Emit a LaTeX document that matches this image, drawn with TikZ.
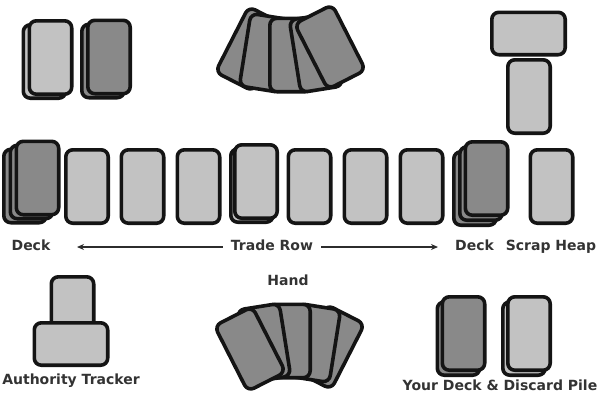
\documentclass[tikz,border=0pt]{standalone}
\usepackage{fontspec}
\setmainfont{DejaVu Sans}
\usetikzlibrary{arrows.meta}
\definecolor{cardlight}{HTML}{C2C2C2}
\definecolor{carddark}{HTML}{898989}
\definecolor{ink}{HTML}{141414}
\definecolor{txt}{HTML}{333333}
\tikzset{
  cardshape/.style={draw=ink, line width=3.6pt, rounded corners=7pt, line join=round},
  lbl/.style={text=txt, font=\bfseries\fontsize{14}{16}\selectfont, inner sep=0pt, text height=1.5ex, text depth=.25ex},
  arr/.style={draw=ink!90, line width=1.3pt, -{Stealth[length=7pt,width=6pt]}}
}
\newcommand\cardat[4]{\draw[cardshape,fill=#4,shift={(#1,#2)},rotate=#3] (-21.2,-36.7) rectangle (21.2,36.7);}
\newcommand\fanofcards{%
  \cardat{40}{6}{-27}{carddark}
  \cardat{25}{2}{-9}{carddark}
  \cardat{0}{0}{0}{carddark}
  \cardat{-25}{2}{9}{carddark}
  \cardat{-39}{8}{27}{carddark}}
\begin{document}
\begin{tikzpicture}[x=1pt,y=-1pt]
\useasboundingbox (0,0) rectangle (600,400);
% top-left stacks
\cardat{44.5}{61.5}{0}{cardlight}
\cardat{50.5}{57.5}{0}{cardlight}
\cardat{103}{61}{0}{carddark}
\cardat{109}{57}{0}{carddark}
% opponent hand
\begin{scope}[shift={(291,55)},rotate=180]
\fanofcards
\end{scope}
% scrap top
\cardat{529}{96.5}{0}{cardlight}
\cardat{528.5}{33.5}{90}{cardlight}
% main row
\cardat{25}{186}{0}{carddark}
\cardat{31.5}{182}{0}{carddark}
\cardat{37.5}{178}{0}{carddark}
\cardat{87}{186.5}{0}{cardlight}
\cardat{142.5}{186.5}{0}{cardlight}
\cardat{198.5}{186.5}{0}{cardlight}
\cardat{252}{185.5}{0}{cardlight}
\cardat{256}{181.5}{0}{cardlight}
\cardat{309.5}{186.5}{0}{cardlight}
\cardat{365.5}{186.5}{0}{cardlight}
\cardat{421.5}{186.5}{0}{cardlight}
\cardat{475}{188.5}{0}{carddark}
\cardat{481}{183.5}{0}{carddark}
\cardat{486.5}{178.5}{0}{carddark}
\cardat{551.5}{186.5}{0}{cardlight}
% authority tracker
\cardat{72.5}{313.5}{0}{cardlight}
\cardat{71}{344}{90}{cardlight}
% hand
\begin{scope}[shift={(289,341)}]
\fanofcards
\end{scope}
% your deck & discard
\cardat{458.5}{338.5}{0}{carddark}
\cardat{463.5}{333.5}{0}{carddark}
\cardat{524}{338.5}{0}{cardlight}
\cardat{529}{333.5}{0}{cardlight}
% labels
\node[lbl] (deckL) at (31,247) {Deck};
\node[lbl] (trade) at (272,247) {Trade Row};
\node[lbl] (deckR) at (474.5,247) {Deck};
\node[lbl] (scrap) at (551,247) {Scrap Heap};
\node[lbl] (hand) at (288,282.5) {Hand};
\node[lbl] (auth) at (71,381.5) {Authority Tracker};
\node[lbl] (yours) at (500,387) {Your Deck \& Discard Pile};
\coordinate (tipL) at (77,247);
\coordinate (tipR) at (438,247);
\draw[arr, shorten <=8pt] (trade.west) -- (tipL);
\draw[arr, shorten <=8pt] (trade.east) -- (tipR);
\end{tikzpicture}
\end{document}
